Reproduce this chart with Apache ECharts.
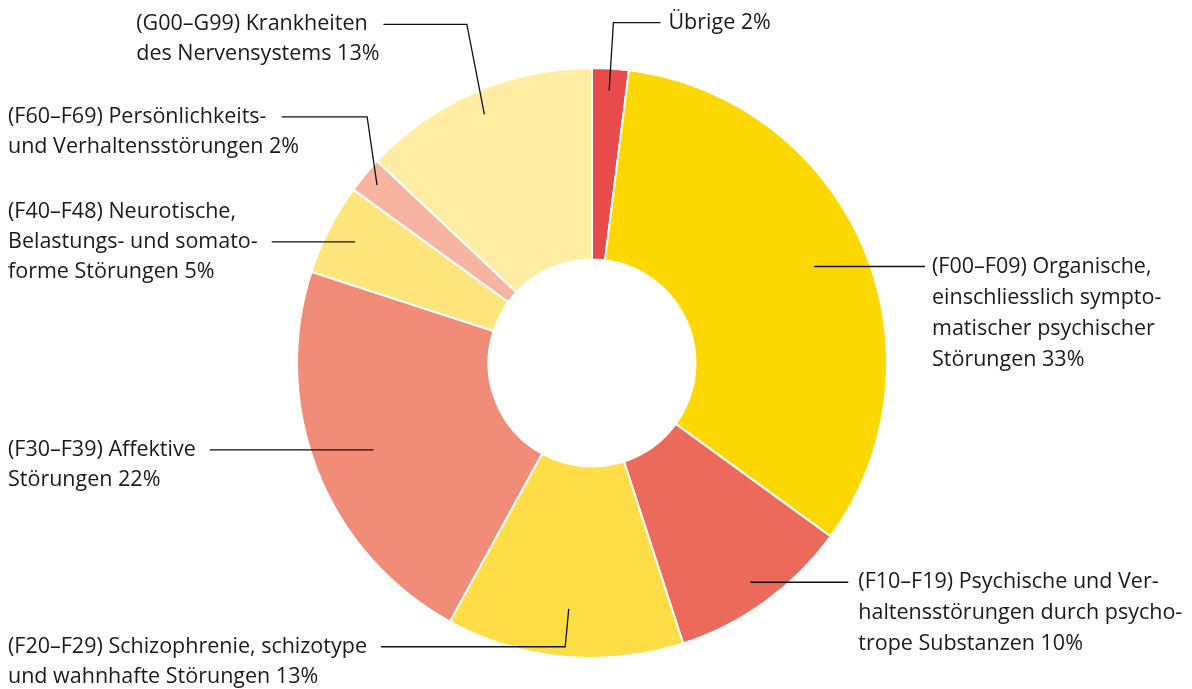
<!DOCTYPE html>
<html><head><meta charset="utf-8">
<script src="https://cdn.jsdelivr.net/npm/echarts@6/dist/echarts.min.js"></script>
<style>html,body{margin:0;padding:0;background:#fff}#c{width:1192px;height:689px}</style>
</head><body><div id="c"></div>
<script>
// ---- data ----
const categories = [
  'Übrige',
  '(F00–F09) Organische, einschliesslich symptomatischer psychischer Störungen',
  '(F10–F19) Psychische und Verhaltensstörungen durch psychotrope Substanzen',
  '(F20–F29) Schizophrenie, schizotype und wahnhafte Störungen',
  '(F30–F39) Affektive Störungen',
  '(F40–F48) Neurotische, Belastungs- und somatoforme Störungen',
  '(F60–F69) Persönlichkeits- und Verhaltensstörungen',
  '(G00–G99) Krankheiten des Nervensystems'
];
const values = [2, 33, 10, 13, 22, 5, 2, 13];
const labelRows = [
  ['Übrige'],
  ['(F00–F09) Organische,', 'einschliesslich sympto-', 'matischer psychischer', 'Störungen'],
  ['(F10–F19) Psychische und Ver-', 'haltensstörungen durch psycho-', 'trope Substanzen'],
  ['(F20–F29) Schizophrenie, schizotype', 'und wahnhafte Störungen'],
  ['(F30–F39) Affektive', 'Störungen'],
  ['(F40–F48) Neurotische,', 'Belastungs- und somato-', 'forme Störungen'],
  ['(F60–F69) Persönlichkeits-', 'und Verhaltensstörungen'],
  ['(G00–G99) Krankheiten', 'des Nervensystems']
];
const colors = ['#e84b4b', '#fdd700', '#ec6a5b', '#fedd47', '#f08c78', '#fee57b', '#f7b5a1', '#feeda3'];

// ---- label line styling (per slice) ----
const anchorRadius = [273, 242, 270, 247, 235, 266, 279, 271];
const lineLen      = [68, 1, 1, 38, 1, 1, 107, 98];
const lineLen2     = [47, 110, 97, 10, 10, 10, 13, 62];
const alignMode    = ['none', 'none', 'none', 'edge', 'edge', 'edge', 'edge', 'none'];
const autoExtend   = [false, false, false, true, true, true, false, false];
const labelGap     = [8, 7, 10, 14, 14, 14, 8, 4];
const anchorRow    = [0, 0, 0, 0, 0, 1, 0, 0];
const lean         = [null, null, null, null, null, null, 0.12, 0.45];
const rowHeight    = [30, 31, 31, 30, 30, 30, 30, 30];

const FONT = 'Open Sans';
const FS = 21.5;
const TXT = '#1a1a1a';
const CENTER = [592, 363];

const chart = echarts.init(document.getElementById('c'), null, {renderer: 'canvas'});

const series = [{
  type: 'pie',
  z: 2,
  center: CENTER,
  radius: [103.5, 295],
  startAngle: 90,
  clockwise: true,
  silent: true,
  animation: false,
  label: {show: false},
  labelLine: {show: false},
  itemStyle: {borderColor: '#ffffff', borderWidth: 2},
  data: values.map((v, i) => ({value: v, name: categories[i], itemStyle: {color: colors[i]}}))
}];

values.forEach((_, k) => {
  const rows = labelRows[k];
  const N = rows.length;
  const lh = rowHeight[k];
  const diff = (N - 2 * anchorRow[k] - 1) * lh;
  const pad = diff >= 0 ? [diff, 0, 0, 0] : [0, 0, -diff, 0];
  const s = {
    type: 'pie',
    z: 5,
    center: CENTER,
    radius: [0, anchorRadius[k]],
    startAngle: 90,
    clockwise: true,
    silent: true,
    animation: false,
    avoidLabelOverlap: autoExtend[k],
    itemStyle: {color: 'rgba(0,0,0,0)', borderWidth: 0},
    label: {
      show: true,
      position: 'outside',
      alignTo: alignMode[k],
      edgeDistance: 8,
      bleedMargin: 0,
      distanceToLabelLine: labelGap[k],
      padding: pad,
      fontFamily: FONT, fontSize: FS, color: TXT, lineHeight: lh,
      formatter: function () {
        return rows.map((r, j) => '{l|' + (j === N - 1 ? r + ' ' + values[k] + '%' : r) + '}').join('\n');
      },
      rich: {l: {align: 'left', fontFamily: FONT, fontSize: FS, color: TXT, lineHeight: lh}}
    },
    labelLine: {
      show: true,
      length: lineLen[k],
      length2: lineLen2[k],
      smooth: false,
      lineStyle: {color: '#111111', width: 1.3}
    },
    data: values.map((v, i) => {
      const d = {value: v, name: categories[i]};
      if (i !== k) { d.label = {show: false}; d.labelLine = {show: false}; }
      return d;
    })
  };
  if (lean[k] != null) {
    const f = lean[k];
    s.labelLayout = function (p) {
      const pts = p.labelLinePoints;
      if (!pts || pts.length < 3) return {};
      const b = [pts[0][0] + (pts[1][0] - pts[0][0]) * f, pts[1][1]];
      return {labelLinePoints: [pts[0], b, pts[2]]};
    };
  }
  series.push(s);
});

chart.setOption({
  backgroundColor: '#ffffff',
  animation: false,
  textStyle: {fontFamily: FONT},
  series: series
});
</script>
</body></html>
